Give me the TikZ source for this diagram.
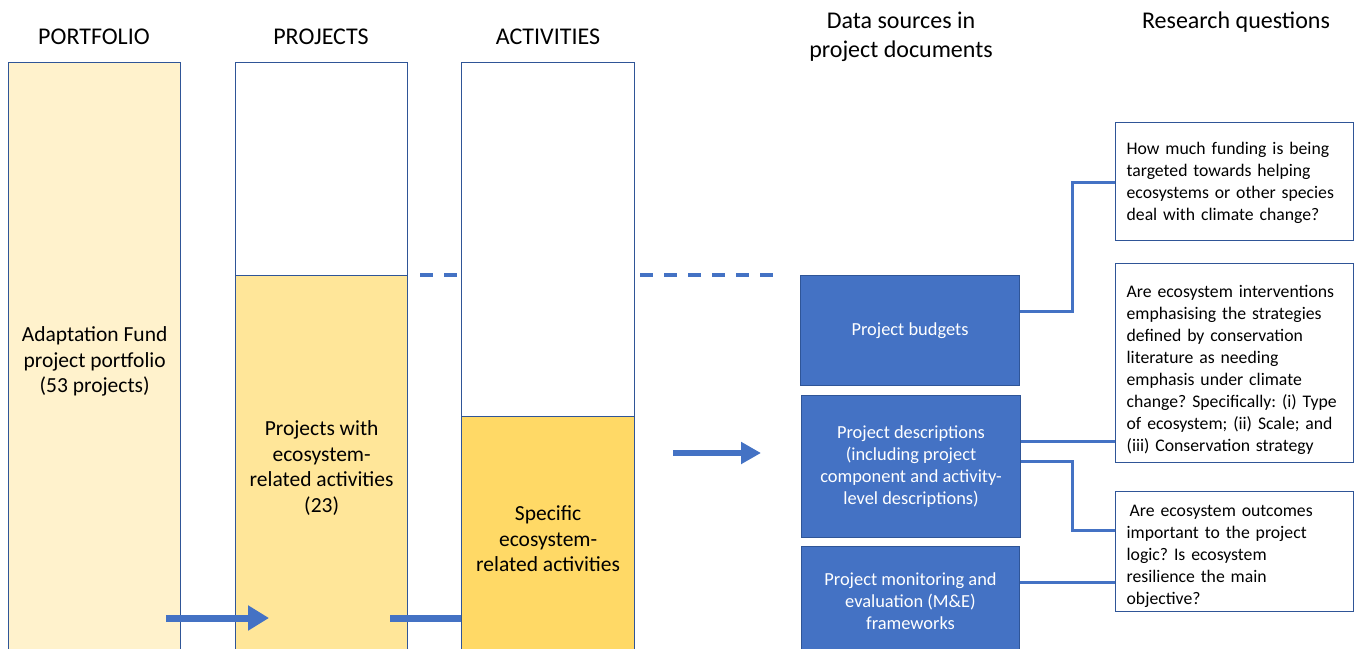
\documentclass[tikz,border=0pt]{standalone}
\usepackage{fontspec}
\setmainfont{Carlito}
\frenchspacing
\usetikzlibrary{arrows.meta}
\definecolor{dkb}{HTML}{2F5597}
\definecolor{blu}{HTML}{4472C4}
\definecolor{yA}{HTML}{FFF2CC}
\definecolor{yB}{HTML}{FFE699}
\definecolor{yC}{HTML}{FFD966}
\tikzset{
  col/.style={draw=dkb, line width=1.3pt, inner sep=0pt, anchor=north west, align=center, font=\fontsize{21.5}{25.5}\selectfont},
  hdr/.style={font=\fontsize{24}{29}\selectfont, align=center},
  src/.style={fill=blu, draw=dkb, line width=1pt, text=white, anchor=north west, inner sep=0pt, align=center, font=\fontsize{18.4}{22}\selectfont},
  rq/.style={draw=dkb, line width=1.3pt, fill=white, anchor=north west, align=left, inner xsep=11pt, inner ysep=0pt, text width=216pt, font=\fontsize{17.7}{22}\selectfont},
  link/.style={blu, line width=3pt},
  dashlink/.style={blu, line width=3.5pt, dash pattern=on 13pt off 11pt},
  bigarrow/.style={blu, line width=7pt, -{Triangle[length=21pt,width=24pt]}},
  bigline/.style={blu, line width=7pt},
}
\begin{document}
\begin{tikzpicture}[x=1pt,y=-1pt]
\useasboundingbox (0,0) rectangle (1360,648);
\clip (0,0) rectangle (1360,648);
\fill[white] (0,0) rectangle (1360,648);

% headers
\node[hdr] (hPort) at (94,37) {PORTFOLIO};
\node[hdr] (hProj) at (321,37) {PROJECTS};
\node[hdr] (hAct) at (548,37) {ACTIVITIES};
\node[hdr] (hData) at (901,36.5) {Data sources in\\project documents};
\node[hdr] (hRQ) at (1236,22) {Research questions};

% columns
\node[col, fill=yA, minimum width=172pt, minimum height=598pt] (port) at (8,62)
  {Adaptation Fund\\project portfolio\\(53 projects)};
\node[col, fill=white, minimum width=172pt, minimum height=213pt] (projTop) at (235,62) {};
\node[col, fill=yB, minimum width=172pt, minimum height=385pt] (projBot) at (235,275)
  {Projects with\\ecosystem-\\related activities\\(23)};
\node[col, fill=white, minimum width=173pt, minimum height=354pt] (actTop) at (461,62) {};
\node[col, fill=yC, minimum width=173pt, minimum height=244pt] (actBot) at (461,416)
  {Specific\\ecosystem-\\related activities};

% dashed guide
\coordinate (d1s) at (420,275);
\coordinate (d1e) at (460,275);
\coordinate (d2s) at (640,275);
\coordinate (d2e) at (778,275);
\draw[dashlink] (d1s) -- (d1e);
\draw[dashlink] (d2s) -- (d2e);

% data sources
\node[src, minimum width=219pt, minimum height=110pt] (budg) at (800,275) {Project budgets};
\node[src, minimum width=219pt, minimum height=142pt] (desc) at (801,395)
  {Project descriptions\\(including project\\component and activity-\\level descriptions)};
\node[src, minimum width=218pt, minimum height=110pt] (me) at (801,546)
  {Project monitoring and\\evaluation (M\&E)\\frameworks};

% research questions
\node[rq, minimum height=118pt] (q1) at (1115,122)
  {\rule{0pt}{15pt}How much funding is being\\targeted towards helping\\ecosystems or other species\\deal with climate change?};
\node[rq, minimum height=199pt] (q2) at (1115,263)
  {\rule{0pt}{25pt}Are ecosystem interventions\\emphasising the strategies\\defined by conservation\\literature as needing\\emphasis under climate\\change? Specifically: (i) Type\\of ecosystem; (ii) Scale; and\\(iii) Conservation strategy};
\node[rq, minimum height=120pt] (q3) at (1115,491)
  {\rule{0pt}{21pt}\hspace{3pt}Are ecosystem outcomes\\important to the project\\logic? Is ecosystem\\resilience the main\\objective?};

% connectors
\draw[link] ([yshift=19pt]budg.east) -- ++(52,0) |- ([yshift=-1pt]q1.west);
\draw[link] ([yshift=25pt]desc.east) -- ([yshift=25pt]desc.east -| q2.west);
\draw[link] ([yshift=5pt]desc.east) -- ++(51,0) |- ([yshift=21pt]q3.west);
\draw[link] ([yshift=19pt]me.east) -- ([yshift=19pt]me.east -| q3.west);

% big arrows
\coordinate (a1s) at (166,618);
\coordinate (a1e) at (269,618);
\coordinate (a2s) at (390,618);
\coordinate (a2e) at (461,618);
\coordinate (a3s) at (673,453);
\coordinate (a3e) at (761,453);
\draw[bigarrow] (a1s) -- (a1e);
\draw[bigline] (a2s) -- (a2e);
\draw[blu, line width=6pt, -{Triangle[length=20pt,width=21pt]}] (a3s) -- (a3e);
\end{tikzpicture}
\end{document}
